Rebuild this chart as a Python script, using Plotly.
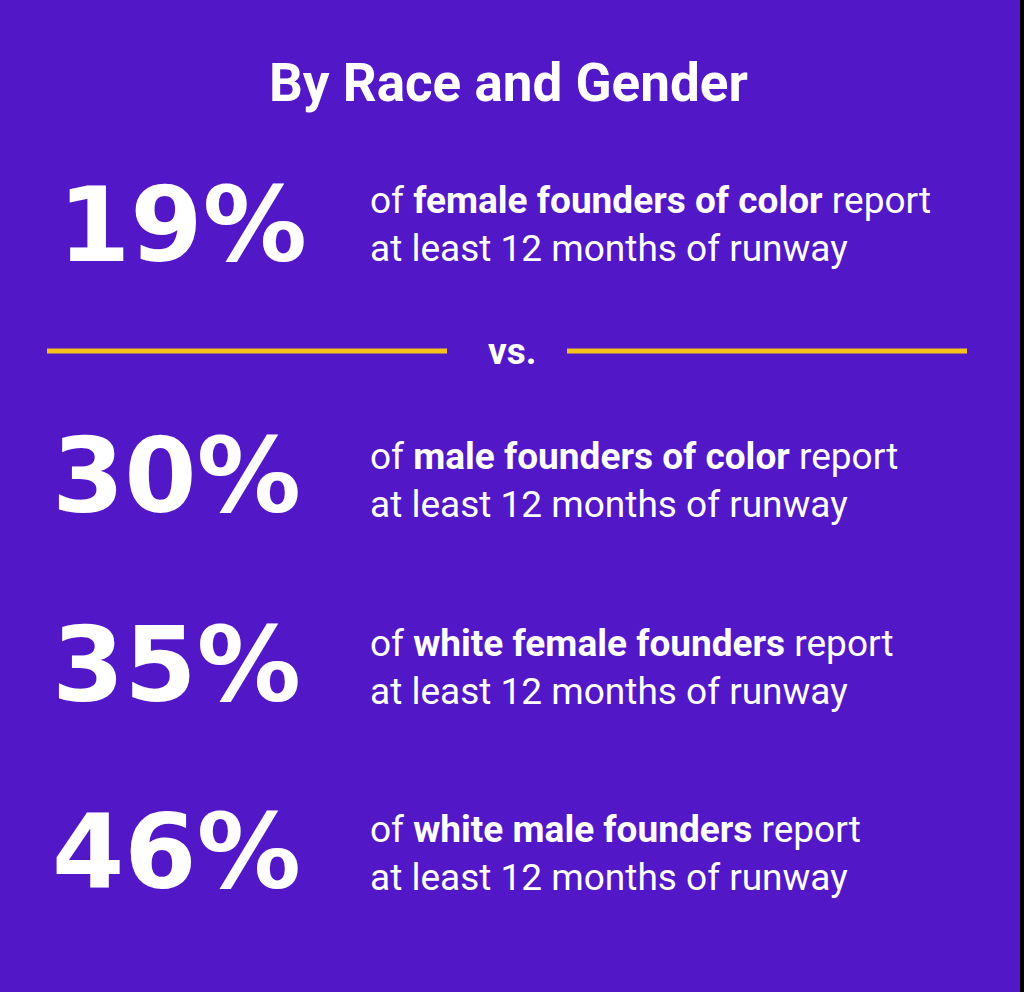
"""By Race and Gender: runway infographic, Plotly only."""

import plotly.graph_objects as go

# data
TITLE = "By Race and Gender"
SHARES = [19, 30, 35, 46]
GROUPS = [
    "female founders of color",
    "male founders of color",
    "white female founders",
    "white male founders",
]
TAIL = "at least 12 months of runway"
SEPARATOR = "vs."

# layout (pixel coords, y grows downward)
W, H = 1024, 992
NUM_Y = [235, 486, 675, 862]
DESC_Y = [228, 484, 671, 857]
NUM_X = [58, 52, 52, 52]
DESC_X = 370
BG = "#5218c8"
GOLD = "#f5c11a"
FONT = "Roboto, Noto Sans, sans-serif"
NUM_FONT = "DejaVu Sans, Liberation Sans, sans-serif"

fig = go.Figure()

# big percentages
fig.add_trace(
    go.Scatter(
        x=NUM_X,
        y=NUM_Y,
        mode="text",
        text=[f"<b>{v}%</b>" for v in SHARES],
        textposition="middle right",
        textfont=dict(family=NUM_FONT, size=104, color="white"),
        hoverinfo="skip",
        showlegend=False,
    )
)

# descriptions
fig.add_trace(
    go.Scatter(
        x=[DESC_X] * len(GROUPS),
        y=DESC_Y,
        mode="text",
        text=[f"of <b>{g}</b> report<br>{TAIL}" for g in GROUPS],
        textposition="middle right",
        textfont=dict(family=FONT, size=37, color="white"),
        hoverinfo="skip",
        showlegend=False,
    )
)

fig.add_annotation(
    x=508, y=83, text=f"<b>{TITLE}</b>", showarrow=False,
    font=dict(family=FONT, size=53, color="white"),
)
fig.add_annotation(
    x=512, y=351, text=f"<b>{SEPARATOR}</b>", showarrow=False,
    font=dict(family=FONT, size=37, color="white"),
)

# gold rules either side of "vs."
for x0, x1 in [(47, 447), (567, 967)]:
    fig.add_shape(type="line", x0=x0, x1=x1, y0=351, y1=351,
                  line=dict(color=GOLD, width=5))

# dark strip on the right edge
fig.add_shape(type="rect", x0=1020, x1=W, y0=0, y1=H,
              fillcolor="black", line=dict(width=0))

fig.update_xaxes(range=[0, W], visible=False, fixedrange=True)
fig.update_yaxes(range=[H, 0], visible=False, fixedrange=True)
fig.update_layout(
    width=W,
    height=H,
    margin=dict(l=0, r=0, t=0, b=0),
    paper_bgcolor=BG,
    plot_bgcolor=BG,
)

fig.write_html(
    "out.html",
    config={"displayModeBar": False},
    post_script="document.body.style.margin='0';",
)
